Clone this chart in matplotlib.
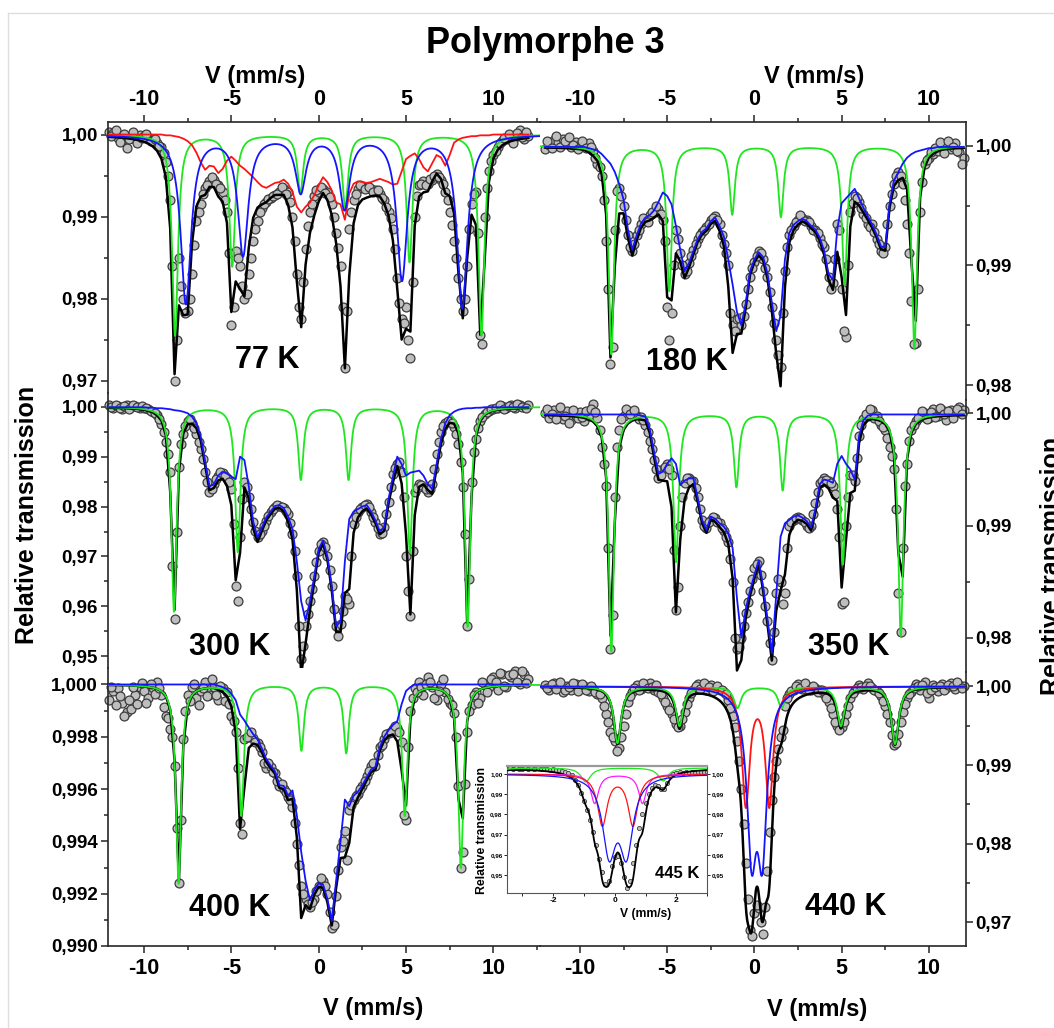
import numpy as np
import matplotlib.pyplot as plt
from matplotlib.ticker import MultipleLocator, FuncFormatter
from matplotlib.lines import Line2D

plt.rcParams['font.family'] = ['Liberation Sans', 'DejaVu Sans']
plt.rcParams['font.weight'] = 'bold'
plt.rcParams['axes.unicode_minus'] = False

W, H = 1054, 1028

# velocity channels (mm/s): even channels, odd (half-step) channels, inset channels
vel = np.arange(-12, 12.001, 0.25)
vel_mid = np.arange(-11.875, 11.876, 0.25)
vel_ins = np.arange(-3.4, 3.001, 0.1)

# ---------------- 77 K ----------------
t77 = [1.0003, 1.0002, 0.9996, 0.9993, 0.9983, 0.9997, 0.9995, 1.0000,
       0.9998, 0.9996, 0.9993, 0.9990, 0.9985, 0.9966, 0.9920, 0.9700,
       0.9850, 0.9800, 0.9785, 0.9830, 0.9895, 0.9915, 0.9935, 0.9943,
       0.9945, 0.9938, 0.9930, 0.9905, 0.9768, 0.9858, 0.9840, 0.9800,
       0.9830, 0.9870, 0.9895, 0.9910, 0.9918, 0.9923, 0.9926, 0.9930,
       0.9933, 0.9930, 0.9900, 0.9830, 0.9775, 0.9860, 0.9905, 0.9925,
       0.9930, 0.9934, 0.9930, 0.9915, 0.9880, 0.9840, 0.9715, 0.9885,
       0.9920, 0.9933, 0.9937, 0.9935, 0.9933, 0.9932, 0.9928, 0.9920,
       0.9905, 0.9885, 0.9825, 0.9775, 0.9790, 0.9728, 0.9900, 0.9938,
       0.9943, 0.9940, 0.9945, 0.9952, 0.9945, 0.9930, 0.9905, 0.9870,
       0.9825, 0.9785, 0.9840, 0.9915, 0.9930, 0.9755, 0.9900, 0.9955,
       0.9975, 0.9985, 0.9992, 0.9995, 0.9993, 0.9997, 1.0005, 0.9994,
       0.9998]
t77_mid = [0.9998, 1.0006, 0.9991, 1.0001, 0.9995, 1.0003, 0.9990, 0.9996,
           1.0001, 0.9992, 0.9995, 0.9986, 0.9978, 0.9950, 0.9840, 0.9750,
           0.9815, 0.9782, 0.9800, 0.9865, 0.9905, 0.9928, 0.9938, 0.9948,
           0.9940, 0.9935, 0.9920, 0.9855, 0.9790, 0.9850, 0.9815, 0.9805,
           0.9850, 0.9885, 0.9905, 0.9915, 0.9921, 0.9925, 0.9928, 0.9936,
           0.9928, 0.9918, 0.9870, 0.9790, 0.9820, 0.9888, 0.9915, 0.9932,
           0.9936, 0.9929, 0.9924, 0.9900, 0.9862, 0.9790, 0.9785, 0.9905,
           0.9928, 0.9938, 0.9934, 0.9936, 0.9930, 0.9932, 0.9923, 0.9912,
           0.9898, 0.9860, 0.9795, 0.9770, 0.9750, 0.9820, 0.9925, 0.9940,
           0.9938, 0.9946, 0.9950, 0.9948, 0.9940, 0.9920, 0.9890, 0.9850,
           0.9800, 0.9800, 0.9885, 0.9928, 0.9880, 0.9745, 0.9935, 0.9968,
           0.9980, 0.9990, 0.9996, 1.0001, 0.9990, 1.0002, 0.9997, 1.0003]
red77 = [1.0000, 1.0000, 1.0000, 1.0000, 1.0000, 1.0000, 1.0000, 1.0000,
         1.0000, 1.0000, 1.0000, 1.0000, 1.0000, 0.9999, 0.9999, 0.9998,
         0.9997, 0.9995, 0.9992, 0.9987, 0.9978, 0.9966, 0.9957, 0.9962,
         0.9961, 0.9953, 0.9958, 0.9968, 0.9973, 0.9968, 0.9962, 0.9958,
         0.9953, 0.9948, 0.9942, 0.9937, 0.9935, 0.9938, 0.9941, 0.9942,
         0.9945, 0.9940, 0.9930, 0.9912, 0.9905, 0.9912, 0.9917, 0.9926,
         0.9938, 0.9948, 0.9942, 0.9932, 0.9917, 0.9915, 0.9896, 0.9928,
         0.9940, 0.9943, 0.9942, 0.9941, 0.9942, 0.9944, 0.9946, 0.9944,
         0.9942, 0.9939, 0.9940, 0.9955, 0.9970, 0.9974, 0.9977, 0.9970,
         0.9960, 0.9955, 0.9965, 0.9975, 0.9972, 0.9962, 0.9975, 0.9990,
         0.9994, 0.9996, 0.9997, 0.9998, 0.9998, 0.9999, 0.9999, 0.9999,
         1.0000, 1.0000, 1.0000, 1.0000, 1.0000, 1.0000, 1.0000, 1.0000,
         1.0000]
green77_pos = [-8.22, -4.95, -1.05, 1.52, 5.20, 9.32]
green77_depth = [0.0245, 0.0160, 0.0070, 0.0088, 0.0155, 0.0245]
blue77_pos = [-7.60, -4.33, -1.03, 1.48, 4.77, 8.22]
blue77_depth = [0.0205, 0.0145, 0.0068, 0.0088, 0.0175, 0.0210]

# ---------------- 180 K ----------------
t180 = [0.9997, 1.0001, 1.0005, 1.0003, 1.0006, 1.0002, 0.9999, 1.0003,
        1.0001, 1.0000, 1.0002, 0.9996, 0.9985, 0.9975, 0.9920, 0.9818,
        0.9930, 0.9965, 0.9950, 0.9925, 0.9912, 0.9925, 0.9935, 0.9938,
        0.9942, 0.9945, 0.9947, 0.9938, 0.9865, 0.9860, 0.9930, 0.9910,
        0.9893, 0.9902, 0.9913, 0.9922, 0.9928, 0.9932, 0.9938, 0.9941,
        0.9935, 0.9918, 0.9900, 0.9850, 0.9855, 0.9850, 0.9868, 0.9890,
        0.9903, 0.9912, 0.9905, 0.9890, 0.9865, 0.9838, 0.9815, 0.9895,
        0.9925, 0.9933, 0.9938, 0.9940, 0.9938, 0.9933, 0.9930, 0.9923,
        0.9915, 0.9890, 0.9885, 0.9935, 0.9880, 0.9840, 0.9945, 0.9958,
        0.9953, 0.9943, 0.9935, 0.9935, 0.9922, 0.9912, 0.9915, 0.9950,
        0.9968, 0.9978, 0.9968, 0.9935, 0.9870, 0.9835, 0.9945, 0.9985,
        0.9990, 0.9993, 0.9996, 0.9998, 1.0000, 0.9997, 1.0002, 0.9995,
        0.9990]
t180_mid = [1.0004, 0.9998, 1.0008, 0.9999, 1.0004, 1.0007, 1.0001, 0.9997,
            1.0004, 0.9998, 0.9999, 0.9990, 0.9982, 0.9955, 0.9880, 0.9832,
            0.9962, 0.9958, 0.9938, 0.9915, 0.9918, 0.9930, 0.9940, 0.9936,
            0.9945, 0.9950, 0.9943, 0.9920, 0.9838, 0.9900, 0.9922, 0.9900,
            0.9895, 0.9908, 0.9918, 0.9925, 0.9930, 0.9935, 0.9940, 0.9938,
            0.9925, 0.9910, 0.9860, 0.9845, 0.9856, 0.9858, 0.9880, 0.9898,
            0.9908, 0.9910, 0.9898, 0.9878, 0.9852, 0.9825, 0.9860, 0.9915,
            0.9930, 0.9936, 0.9942, 0.9937, 0.9936, 0.9930, 0.9927, 0.9918,
            0.9905, 0.9880, 0.9905, 0.9930, 0.9845, 0.9900, 0.9952, 0.9956,
            0.9948, 0.9940, 0.9932, 0.9928, 0.9918, 0.9910, 0.9935, 0.9960,
            0.9975, 0.9975, 0.9955, 0.9910, 0.9834, 0.9880, 0.9970, 0.9988,
            0.9995, 0.9998, 1.0003, 0.9994, 1.0004, 0.9999, 0.9996, 0.9985]
blue180 = [0.9999, 0.9999, 0.9999, 0.9999, 0.9999, 0.9999, 0.9999, 0.9999,
           0.9999, 0.9999, 0.9998, 0.9997, 0.9996, 0.9993, 0.9989, 0.9985,
           0.9978, 0.9968, 0.9955, 0.9930, 0.9913, 0.9925, 0.9935, 0.9940,
           0.9942, 0.9946, 0.9953, 0.9961, 0.9958, 0.9951, 0.9933, 0.9913,
           0.9895, 0.9902, 0.9912, 0.9922, 0.9928, 0.9931, 0.9937, 0.9940,
           0.9933, 0.9924, 0.9905, 0.9884, 0.9861, 0.9850, 0.9868, 0.9895,
           0.9905, 0.9911, 0.9907, 0.9893, 0.9869, 0.9845, 0.9858, 0.9905,
           0.9927, 0.9934, 0.9937, 0.9939, 0.9937, 0.9933, 0.9930, 0.9923,
           0.9912, 0.9893, 0.9888, 0.9930, 0.9952, 0.9956, 0.9960, 0.9964,
           0.9956, 0.9948, 0.9941, 0.9934, 0.9926, 0.9916, 0.9915, 0.9952,
           0.9971, 0.9978, 0.9985, 0.9990, 0.9993, 0.9995, 0.9996, 0.9997,
           0.9998, 0.9998, 0.9999, 0.9999, 0.9999, 0.9999, 0.9999, 0.9999,
           0.9999]
green180_pos = [-8.20, -4.88, -1.27, 1.52, 5.17, 9.17]
green180_depth = [0.0174, 0.0121, 0.0057, 0.0059, 0.0116, 0.0169]

# ---------------- 300 K ----------------
t300 = [1.0003, 0.9997, 1.0002, 0.9995, 1.0003, 1.0000, 1.0001, 0.9998,
        0.9997, 0.9995, 0.9990, 0.9983, 0.9965, 0.9930, 0.9870, 0.9575,
        0.9880, 0.9945, 0.9972, 0.9968, 0.9945, 0.9915, 0.9870, 0.9830,
        0.9845, 0.9862, 0.9868, 0.9858, 0.9835, 0.9640, 0.9740, 0.9850,
        0.9820, 0.9770, 0.9740, 0.9752, 0.9772, 0.9790, 0.9800, 0.9802,
        0.9798, 0.9785, 0.9745, 0.9660, 0.9495, 0.9560, 0.9610, 0.9660,
        0.9710, 0.9730, 0.9700, 0.9640, 0.9560, 0.9565, 0.9620, 0.9605,
        0.9765, 0.9790, 0.9800, 0.9805, 0.9790, 0.9770, 0.9745, 0.9760,
        0.9810, 0.9865, 0.9885, 0.9870, 0.9700, 0.9580, 0.9830, 0.9845,
        0.9840, 0.9830, 0.9845, 0.9905, 0.9950, 0.9968, 0.9972, 0.9960,
        0.9925, 0.9840, 0.9560, 0.9850, 0.9935, 0.9972, 0.9985, 0.9992,
        0.9995, 0.9998, 1.0002, 0.9997, 1.0003, 0.9998, 1.0004, 0.9999,
        1.0004]
t300_mid = [1.0000, 1.0004, 0.9998, 1.0001, 0.9996, 1.0003, 0.9999, 1.0002,
            0.9998, 0.9992, 0.9987, 0.9975, 0.9950, 0.9905, 0.9680, 0.9750,
            0.9925, 0.9962, 0.9975, 0.9958, 0.9930, 0.9895, 0.9850, 0.9835,
            0.9855, 0.9870, 0.9862, 0.9850, 0.9765, 0.9610, 0.9815, 0.9840,
            0.9795, 0.9752, 0.9745, 0.9762, 0.9782, 0.9796, 0.9803, 0.9800,
            0.9792, 0.9768, 0.9710, 0.9560, 0.9520, 0.9585, 0.9635, 0.9688,
            0.9725, 0.9718, 0.9672, 0.9595, 0.9540, 0.9590, 0.9615, 0.9700,
            0.9780, 0.9795, 0.9803, 0.9800, 0.9780, 0.9757, 0.9748, 0.9785,
            0.9840, 0.9878, 0.9890, 0.9820, 0.9630, 0.9710, 0.9838, 0.9843,
            0.9835, 0.9835, 0.9875, 0.9930, 0.9962, 0.9972, 0.9968, 0.9945,
            0.9890, 0.9745, 0.9655, 0.9910, 0.9958, 0.9980, 0.9990, 0.9996,
            0.9998, 1.0003, 0.9996, 1.0002, 0.9999, 1.0005, 1.0000, 0.9997]
blue300 = [0.9999, 0.9999, 0.9999, 0.9999, 0.9999, 0.9999, 0.9999, 0.9999,
           0.9999, 0.9998, 0.9998, 0.9997, 0.9997, 0.9996, 0.9995, 0.9993,
           0.9992, 0.9990, 0.9987, 0.9980, 0.9967, 0.9940, 0.9890, 0.9840,
           0.9845, 0.9862, 0.9870, 0.9866, 0.9860, 0.9855, 0.9900, 0.9893,
           0.9840, 0.9770, 0.9738, 0.9758, 0.9778, 0.9790, 0.9801, 0.9803,
           0.9797, 0.9780, 0.9755, 0.9690, 0.9610, 0.9572, 0.9610, 0.9660,
           0.9715, 0.9732, 0.9700, 0.9640, 0.9560, 0.9570, 0.9690, 0.9775,
           0.9790, 0.9795, 0.9800, 0.9803, 0.9790, 0.9772, 0.9750, 0.9758,
           0.9815, 0.9860, 0.9900, 0.9885, 0.9862, 0.9868, 0.9870, 0.9872,
           0.9862, 0.9845, 0.9835, 0.9885, 0.9935, 0.9967, 0.9983, 0.9990,
           0.9994, 0.9996, 0.9997, 0.9997, 0.9998, 0.9998, 0.9999, 0.9999,
           0.9999, 0.9999, 0.9999, 0.9999, 0.9999, 0.9999, 0.9999, 0.9999,
           0.9999]
green300_pos = [-8.28, -4.63, -1.02, 1.71, 5.22, 8.53]
green300_depth = [0.0410, 0.0290, 0.0145, 0.0145, 0.0290, 0.0440]

# ---------------- 350 K ----------------
t350 = [1.0000, 0.9996, 1.0003, 0.9998, 0.9995, 1.0002, 0.9994, 0.9998,
        1.0001, 0.9993, 0.9998, 1.0008, 0.9996, 0.9970, 0.9935, 0.9790,
        0.9925, 0.9985, 0.9998, 1.0002, 1.0000, 0.9998, 0.9997, 0.9990,
        0.9975, 0.9958, 0.9942, 0.9950, 0.9955, 0.9945, 0.9825, 0.9900,
        0.9938, 0.9942, 0.9940, 0.9925, 0.9905, 0.9898, 0.9905, 0.9907,
        0.9902, 0.9895, 0.9885, 0.9850, 0.9790, 0.9800, 0.9822, 0.9842,
        0.9862, 0.9868, 0.9842, 0.9815, 0.9780, 0.9840, 0.9850, 0.9840,
        0.9900, 0.9905, 0.9908, 0.9905, 0.9900, 0.9900, 0.9920, 0.9938,
        0.9942, 0.9940, 0.9935, 0.9915, 0.9830, 0.9900, 0.9945, 0.9940,
        0.9980, 0.9995, 0.9998, 1.0003, 0.9998, 0.9990, 0.9985, 0.9970,
        0.9950, 0.9840, 0.9880, 0.9955, 0.9985, 0.9993, 0.9997, 1.0000,
        0.9996, 1.0004, 0.9998, 1.0003, 0.9994, 1.0003, 1.0000, 1.0006,
        1.0003]
t350_mid = [1.0004, 0.9999, 0.9995, 1.0006, 0.9998, 0.9991, 1.0003, 0.9996,
            0.9997, 1.0002, 1.0004, 1.0001, 0.9985, 0.9955, 0.9880, 0.9820,
            0.9970, 0.9995, 1.0004, 0.9999, 1.0003, 0.9995, 0.9994, 0.9983,
            0.9968, 0.9950, 0.9945, 0.9952, 0.9950, 0.9878, 0.9845, 0.9925,
            0.9942, 0.9940, 0.9933, 0.9915, 0.9900, 0.9903, 0.9908, 0.9903,
            0.9898, 0.9890, 0.9870, 0.9800, 0.9792, 0.9810, 0.9832, 0.9852,
            0.9866, 0.9856, 0.9828, 0.9795, 0.9805, 0.9852, 0.9830, 0.9880,
            0.9903, 0.9907, 0.9907, 0.9903, 0.9898, 0.9910, 0.9930, 0.9940,
            0.9941, 0.9938, 0.9928, 0.9890, 0.9832, 0.9925, 0.9945, 0.9960,
            0.9990, 0.9999, 1.0004, 0.9996, 0.9993, 0.9988, 0.9978, 0.9962,
            0.9915, 0.9805, 0.9935, 0.9975, 0.9990, 0.9996, 1.0002, 0.9995,
            1.0001, 0.9997, 1.0005, 0.9999, 1.0002, 0.9996, 1.0004, 0.9999]
blue350 = [0.9999, 0.9999, 0.9999, 0.9999, 0.9999, 0.9999, 0.9999, 0.9999,
           0.9999, 0.9999, 0.9999, 0.9999, 0.9999, 0.9999, 0.9999, 0.9999,
           0.9999, 0.9999, 0.9999, 0.9999, 0.9999, 0.9999, 0.9998, 0.9997,
           0.9986, 0.9965, 0.9946, 0.9948, 0.9955, 0.9960, 0.9955, 0.9936,
           0.9940, 0.9942, 0.9942, 0.9925, 0.9905, 0.9896, 0.9908, 0.9906,
           0.9902, 0.9899, 0.9893, 0.9880, 0.9835, 0.9800, 0.9825, 0.9842,
           0.9856, 0.9869, 0.9845, 0.9816, 0.9786, 0.9838, 0.9890, 0.9902,
           0.9905, 0.9908, 0.9909, 0.9907, 0.9904, 0.9898, 0.9915, 0.9937,
           0.9941, 0.9940, 0.9938, 0.9955, 0.9962, 0.9955, 0.9950, 0.9941,
           0.9980, 0.9994, 0.9998, 0.9999, 0.9999, 0.9999, 0.9999, 0.9999,
           0.9999, 0.9999, 0.9999, 0.9999, 0.9999, 0.9999, 0.9999, 0.9999,
           0.9999, 0.9999, 0.9999, 0.9999, 0.9999, 0.9999, 0.9999, 0.9999,
           0.9999]
green350_pos = [-8.20, -4.49, -1.03, 1.62, 5.07, 8.39]
green350_depth = [0.0212, 0.0132, 0.0065, 0.0068, 0.0134, 0.0198]

# ---------------- 400 K ----------------
t400 = [0.99940, 0.99975, 0.99985, 0.99930, 0.99895, 0.99905, 0.99960, 0.99990,
        0.99975, 0.99950, 0.99985, 1.00010, 0.99960, 0.99880, 0.99830, 0.99690,
        0.99240, 0.99790, 0.99960, 0.99990, 0.99950, 0.99975, 1.00010, 0.99960,
        0.99990, 0.99940, 0.99985, 0.99970, 0.99880, 0.99820, 0.99470, 0.99790,
        0.99800, 0.99795, 0.99775, 0.99740, 0.99680, 0.99685, 0.99660, 0.99610,
        0.99600, 0.99570, 0.99530, 0.99390, 0.99230, 0.99180, 0.99150, 0.99180,
        0.99230, 0.99250, 0.99200, 0.99070, 0.99190, 0.99380, 0.99440, 0.99520,
        0.99560, 0.99580, 0.99610, 0.99650, 0.99690, 0.99690, 0.99760, 0.99790,
        0.99815, 0.99830, 0.99835, 0.99780, 0.99480, 0.99900, 0.99985, 1.00010,
        0.99960, 1.00030, 0.99990, 0.99940, 1.00000, 0.99970, 0.99930, 0.99890,
        0.99610, 0.99360, 0.99820, 0.99920, 0.99970, 0.99950, 1.00000, 0.99990,
        1.00030, 0.99980, 1.00040, 0.99990, 1.00030, 1.00050, 1.00000, 1.00040,
        1.00020]
t400_mid = [0.99990, 0.99920, 0.99955, 0.99880, 0.99940, 0.99990, 0.99925, 1.00005,
            0.99930, 1.00000, 0.99965, 0.99985, 0.99915, 0.99870, 0.99800, 0.99450,
            0.99480, 0.99900, 0.99935, 1.00000, 0.99920, 0.99985, 0.99955, 1.00020,
            0.99960, 0.99995, 0.99935, 0.99925, 0.99860, 0.99680, 0.99430, 0.99800,
            0.99820, 0.99780, 0.99760, 0.99700, 0.99700, 0.99665, 0.99630, 0.99620,
            0.99590, 0.99560, 0.99470, 0.99310, 0.99200, 0.99160, 0.99170, 0.99210,
            0.99260, 0.99230, 0.99130, 0.99080, 0.99290, 0.99400, 0.99330, 0.99540,
            0.99575, 0.99600, 0.99630, 0.99670, 0.99700, 0.99730, 0.99770, 0.99810,
            0.99820, 0.99840, 0.99820, 0.99500, 0.99760, 0.99950, 0.99970, 0.99990,
            1.00000, 1.00010, 0.99950, 0.99975, 1.00020, 0.99945, 0.99920, 0.99800,
            0.99300, 0.99620, 0.99900, 0.99960, 0.99930, 1.00010, 0.99970, 1.00020,
            1.00010, 1.00045, 0.99995, 1.00035, 1.00040, 1.00010, 1.00050, 1.00005]
blue400 = [1.0, 1.0, 1.0, 1.0, 1.0, 1.0, 1.0, 1.0,
           1.0, 1.0, 1.0, 1.0, 1.0, 1.0, 1.0, 1.0,
           1.0, 1.0, 1.0, 1.0, 1.0, 1.0, 1.0, 1.0,
           1.00000, 0.99995, 0.99990, 0.99982, 0.99965, 0.99940, 0.99885, 0.99862,
           0.99835, 0.99810, 0.99790, 0.99755, 0.99715, 0.99690, 0.99668, 0.99615,
           0.99612, 0.99575, 0.99595, 0.99500, 0.99360, 0.99250, 0.99175, 0.99215,
           0.99240, 0.99235, 0.99180, 0.99095, 0.99250, 0.99400, 0.99560, 0.99535,
           0.99575, 0.99590, 0.99615, 0.99645, 0.99675, 0.99685, 0.99760, 0.99800,
           0.99825, 0.99845, 0.99860, 0.99925, 0.99975, 0.99990, 1.00000, 1.00000,
           1.0, 1.0, 1.0, 1.0, 1.0, 1.0, 1.0, 1.0,
           1.0, 1.0, 1.0, 1.0, 1.0, 1.0, 1.0, 1.0,
           1.0, 1.0, 1.0, 1.0, 1.0, 1.0, 1.0, 1.0,
           1.0]
green400_pos = [-8.02, -4.43, -0.99, 1.58, 4.93, 8.14]
green400_depth = [0.0076, 0.0050, 0.0025, 0.0026, 0.0050, 0.0070]

# ---------------- 440 K ----------------
t440 = [1.0002, 0.9995, 1.0004, 0.9998, 0.9993, 1.0001, 0.9996, 1.0003,
        0.9997, 1.0000, 0.9994, 0.9997, 0.9990, 0.9985, 0.9965, 0.9942,
        0.9930, 0.9922, 0.9950, 0.9980, 0.9993, 1.0002, 0.9997, 0.9999,
        1.0004, 0.9996, 0.9993, 0.9985, 0.9975, 0.9965, 0.9952, 0.9950,
        0.9968, 0.9985, 0.9996, 1.0003, 0.9998, 0.9995, 1.0002, 0.9997,
        0.9996, 0.9993, 0.9983, 0.9962, 0.9930, 0.9870, 0.9775, 0.9690,
        0.9712, 0.9718, 0.9685, 0.9765, 0.9855, 0.9905, 0.9935, 0.9975,
        0.9990, 0.9996, 1.0003, 0.9997, 1.0001, 0.9995, 0.9998, 0.9996,
        0.9990, 0.9980, 0.9965, 0.9950, 0.9948, 0.9965, 0.9985, 0.9995,
        1.0002, 0.9997, 1.0004, 0.9998, 0.9994, 0.9988, 0.9975, 0.9955,
        0.9925, 0.9940, 0.9968, 0.9985, 0.9993, 1.0003, 0.9996, 1.0005,
        0.9985, 1.0002, 0.9994, 1.0003, 0.9998, 1.0004, 0.9997, 1.0002,
        1.0000]
t440_mid = [0.9998, 1.0003, 0.9997, 1.0005, 0.9996, 0.9999, 1.0004, 0.9994,
            1.0003, 0.9996, 1.0001, 0.9993, 0.9990, 0.9975, 0.9955, 0.9935,
            0.9918, 0.9935, 0.9965, 0.9988, 0.9998, 0.9995, 1.0004, 0.9998,
            0.9999, 1.0002, 0.9990, 0.9980, 0.9970, 0.9958, 0.9948, 0.9958,
            0.9978, 0.9992, 1.0000, 0.9997, 1.0004, 0.9999, 0.9994, 1.0001,
            0.9995, 0.9990, 0.9973, 0.9948, 0.9905, 0.9825, 0.9730, 0.9682,
            0.9722, 0.9700, 0.9720, 0.9815, 0.9885, 0.9920, 0.9945, 0.9985,
            0.9994, 1.0001, 0.9998, 1.0004, 0.9996, 1.0000, 0.9993, 0.9995,
            0.9985, 0.9972, 0.9955, 0.9945, 0.9955, 0.9975, 0.9992, 0.9998,
            0.9999, 1.0001, 1.0000, 0.9996, 0.9992, 0.9982, 0.9965, 0.9938,
            0.9928, 0.9955, 0.9978, 0.9990, 0.9998, 1.0000, 1.0002, 0.9992,
            0.9996, 0.9999, 1.0001, 0.9996, 1.0002, 1.0000, 1.0005, 0.9998]
green440_pos = [-7.85, -4.29, -0.97, 1.56, 4.96, 8.06]
green440_depth = [0.0072, 0.0050, 0.0027, 0.0027, 0.0050, 0.0073]
blue440_pos = [-0.16, 0.45]
blue440_depth = [0.0195, 0.0195]
red440_pos = [-0.49, 0.85]
red440_depth = [0.0149, 0.0149]

# ---------------- inset 445 K ----------------
t445 = [1.0030, 1.0026, 1.0029, 1.0024, 1.0027, 1.0031, 1.0025, 1.0028, 1.0026, 1.0030,
        1.0024, 1.0027, 1.0025, 1.0022, 1.0024, 1.0020, 1.0018, 1.0015, 1.0010, 1.0004,
        0.9994, 0.9972, 0.9945, 0.9905, 0.9865, 0.9820, 0.9770, 0.9715, 0.9650, 0.9580,
        0.9515, 0.9455, 0.9470, 0.9545, 0.9590, 0.9595, 0.9560, 0.9490, 0.9435, 0.9470,
        0.9560, 0.9650, 0.9735, 0.9800, 0.9855, 0.9900, 0.9930, 0.9945, 0.9942, 0.9928,
        0.9925, 0.9955, 0.9990, 1.0002, 1.0006, 1.0008, 1.0005, 1.0009, 1.0006, 1.0010,
        1.0007, 1.0011, 1.0008, 1.0012, 1.0009]
green445_pos = [-7.85, -4.29, -0.94, 1.57, 4.96, 8.06]
green445_depth = [0.0185, 0.0125, 0.0070, 0.0065, 0.0125, 0.0185]
magenta445_pos = [-0.65, 0.90]
magenta445_depth = [0.0145, 0.0145]
red445_pos = [-0.40, 0.59]
red445_depth = [0.0251, 0.0251]
blue445_pos = [-0.18, 0.38]
blue445_depth = [0.0369, 0.0369]
base445 = 1.0032

GREEN = '#1fe61f'
BLUE = '#1414ff'
RED = '#ff1414'
MAGENTA = '#ff1aff'
DARK = '#262626'


def absorb(v, pos, depth, w):
    v = np.asarray(v, dtype=float)[:, None]
    return (np.array(depth) * w ** 2 / ((v - np.array(pos)) ** 2 + w ** 2)).sum(axis=1)


def add_ax(x0, y_top, x1, y_bot):
    return fig.add_axes([x0 / W, 1 - y_bot / H, (x1 - x0) / W, (y_bot - y_top) / H])


def comma_fmt(nd):
    return FuncFormatter(lambda x, p: f'{x:.{nd}f}'.replace('.', ','))


def style(ax, side, row, xlim, ylim, ymaj, nd):
    ax.set_xlim(*xlim)
    ax.set_ylim(*ylim)
    ax.patch.set_alpha(0)
    for s in ax.spines.values():
        s.set_visible(False)
        s.set_linewidth(1.2)
        s.set_color(DARK)
    ax.spines[side].set_visible(True)
    ax.xaxis.set_major_locator(MultipleLocator(5))
    ax.xaxis.set_minor_locator(MultipleLocator(2.5))
    ax.yaxis.set_major_locator(MultipleLocator(ymaj))
    ax.yaxis.set_minor_locator(MultipleLocator(ymaj / 2))
    ax.yaxis.set_major_formatter(comma_fmt(nd))
    ax.tick_params(which='both', direction='out', width=1.1, color=DARK)
    ax.tick_params(which='major', length=4.8)
    ax.tick_params(which='minor', length=2.8)
    ax.tick_params(axis='x', labelsize=15.5, pad=4)
    ax.tick_params(axis='y', labelsize=13.5, pad=2.5)
    if side == 'left':
        ax.tick_params(axis='y', which='both', left=True, right=False,
                       labelleft=True, labelright=False)
    else:
        ax.tick_params(axis='y', which='both', left=False, right=True,
                       labelleft=False, labelright=True)
    if row == 0:
        ax.spines['top'].set_visible(True)
        ax.tick_params(axis='x', which='both', top=True, bottom=False,
                       labeltop=True, labelbottom=False)
    elif row == 2:
        ax.spines['bottom'].set_visible(True)
        ax.tick_params(axis='x', which='both', top=False, bottom=True,
                       labeltop=False, labelbottom=True)
    else:
        ax.tick_params(axis='x', which='both', top=False, bottom=False,
                       labeltop=False, labelbottom=False)


def points(ax, v, t, ms=6.4):
    ax.plot(v, t, 'o', ms=ms, mfc='#bebebe', mec='#3c3c3c', mew=0.9, ls='none',
            zorder=2, clip_on=False)


fig = plt.figure(figsize=(W / 100, H / 100), dpi=100)

vf = np.linspace(-12.5, 12.8, 2531)
LX = (-12.06, 12.67)
RX = (-12.29, 12.10)
LC = (108, 540)
RC = (540, 965.5)
LW_K = 1.8

# 77 K
ax = add_ax(LC[0], 122.3, LC[1], 393)
style(ax, 'left', 0, LX, (0.96848, 1.00149), 0.01, 2)
points(ax, vel, t77)
points(ax, vel_mid, t77_mid)
w77g, w77b = 0.20, 0.36
black77 = np.array(red77) - absorb(vel, green77_pos, green77_depth, w77g) \
    - absorb(vel, blue77_pos, blue77_depth, w77b)
ax.plot(vel, black77, color='k', lw=LW_K, zorder=3)
ax.plot(vf, 1 - absorb(vf, green77_pos, green77_depth, w77g), color=GREEN, lw=1.3, zorder=4)
ax.plot(vel, red77, color=RED, lw=1.3, zorder=5)
ax.plot(vf, 1 - absorb(vf, blue77_pos, blue77_depth, w77b), color=BLUE, lw=1.3, zorder=6)
ax.text(-2.97, 0.97256, '77 K', ha='center', va='center', fontsize=22)

# 180 K
ax = add_ax(RC[0], 122.3, RC[1], 400)
style(ax, 'right', 0, RX, (0.97875, 1.00196), 0.01, 2)
points(ax, vel, t180)
points(ax, vel_mid, t180_mid)
ax.plot(vel, np.array(blue180) - absorb(vel, green180_pos, green180_depth, 0.18),
        color='k', lw=LW_K, zorder=3)
ax.plot(vf, 1 - absorb(vf, green180_pos, green180_depth, 0.18), color=GREEN, lw=1.3, zorder=4)
ax.plot(vel, blue180, color=BLUE, lw=1.3, zorder=6)
ax.text(-3.87, 0.98196, '180 K', ha='center', va='center', fontsize=22)

# 300 K
ax = add_ax(LC[0], 393, LC[1], 668)
style(ax, 'left', 1, LX, (0.94766, 1.00275), 0.01, 2)
points(ax, vel, t300)
points(ax, vel_mid, t300_mid)
ax.plot(vel, np.array(blue300) - absorb(vel, green300_pos, green300_depth, 0.18),
        color='k', lw=LW_K, zorder=3)
ax.plot(vf, 1 - absorb(vf, green300_pos, green300_depth, 0.18), color=GREEN, lw=1.3, zorder=4)
ax.plot(vel, blue300, color=BLUE, lw=1.3, zorder=6)
ax.text(-5.08, 0.9519, '300 K', ha='center', va='center', fontsize=22)

# 350 K
ax = add_ax(RC[0], 400, RC[1], 672)
style(ax, 'right', 1, RX, (0.97694, 1.00119), 0.01, 2)
points(ax, vel, t350)
points(ax, vel_mid, t350_mid)
ax.plot(vel, np.array(blue350) - absorb(vel, green350_pos, green350_depth, 0.18),
        color='k', lw=LW_K, zorder=3)
ax.plot(vf, 1 - absorb(vf, green350_pos, green350_depth, 0.18), color=GREEN, lw=1.3, zorder=4)
ax.plot(vel, blue350, color=BLUE, lw=1.3, zorder=6)
ax.text(5.40, 0.9792, '350 K', ha='center', va='center', fontsize=22)

# 400 K
ax = add_ax(LC[0], 668, LC[1], 946)
style(ax, 'left', 2, LX, (0.990, 1.00063), 0.002, 3)
points(ax, vel, t400)
points(ax, vel_mid, t400_mid)
ax.plot(vel, np.array(blue400) - absorb(vel, green400_pos, green400_depth, 0.18),
        color='k', lw=LW_K, zorder=3)
ax.plot(vf, 1 - absorb(vf, green400_pos, green400_depth, 0.18), color=GREEN, lw=1.3, zorder=4)
ax.plot(vel, blue400, color=BLUE, lw=1.3, zorder=6)
ax.text(-5.08, 0.99144, '400 K', ha='center', va='center', fontsize=22)

# 440 K
ax = add_ax(RC[0], 672, RC[1], 946)
style(ax, 'right', 2, RX, (0.96698, 1.00183), 0.01, 2)
points(ax, vel, t440)
points(ax, vel_mid, t440_mid)
g440 = absorb(vf, green440_pos, green440_depth, 0.25)
b440 = absorb(vf, blue440_pos, blue440_depth, 0.33)
r440 = absorb(vf, red440_pos, red440_depth, 0.27)
ax.plot(vf, 1 - g440 - b440 - r440, color='k', lw=LW_K, zorder=3)
ax.plot(vf, 1 - g440, color=GREEN, lw=1.3, zorder=4)
ax.plot(vf, 1 - r440, color=RED, lw=1.3, zorder=5)
ax.plot(vf, 1 - b440, color=BLUE, lw=1.3, zorder=6)
ax.text(5.23, 0.97197, '440 K', ha='center', va='center', fontsize=22)

# inset 445 K
axi = add_ax(506.7, 766, 707.3, 893.3)
axi.set_xlim(-3.5, 3.0)
axi.set_ylim(0.9409, 1.004)
axi.set_facecolor('white')
axi.set_zorder(10)
for s in axi.spines.values():
    s.set_linewidth(0.8)
    s.set_color('#555555')
axi.spines['top'].set_color('#9a9a9a')
axi.spines['top'].set_linewidth(1.6)
axi.xaxis.set_major_locator(MultipleLocator(2))
axi.xaxis.set_minor_locator(MultipleLocator(1))
axi.yaxis.set_major_locator(MultipleLocator(0.01))
axi.yaxis.set_major_formatter(comma_fmt(2))
axi.tick_params(which='both', direction='out', width=0.6, length=2, labelsize=4.5, pad=1,
                left=True, right=True, labelleft=True, labelright=True)
axi.tick_params(axis='x', labelsize=6, pad=1)
vfi = np.linspace(-3.6, 3.1, 671)
gi = absorb(vfi, green445_pos, green445_depth, 0.19)
mi = absorb(vfi, magenta445_pos, magenta445_depth, 0.15)
ri = absorb(vfi, red445_pos, red445_depth, 0.19)
bi = absorb(vfi, blue445_pos, blue445_depth, 0.26)
axi.plot(vel_ins, t445, 'o', ms=3.0, mfc='#bebebe', mec='#3c3c3c', mew=0.6, ls='none', zorder=2)
axi.plot(vfi, base445 - gi - mi - ri - bi, color='k', lw=1.3, zorder=3)
axi.plot(vfi, base445 - gi, color=GREEN, lw=0.9, zorder=4)
axi.plot(vfi, 1 - mi, color=MAGENTA, lw=0.9, zorder=5)
axi.plot(vfi, 1 - ri, color=RED, lw=0.9, zorder=6)
axi.plot(vfi, 1 - bi, color=BLUE, lw=0.9, zorder=7)
axi.text(2.01, 0.9505, '445 K', ha='center', va='center', fontsize=12)
fig.text(482 / W, 1 - 830 / H, 'Relative transmission', rotation=90, ha='center',
         va='center', fontsize=8.8)
fig.text(646 / W, 1 - 917 / H, 'V (mm/s)', ha='center', va='baseline', fontsize=8.7)

# figure texts
fig.text(545 / W, 1 - 53.3 / H, 'Polymorphe 3', ha='center', va='baseline', fontsize=26)
fig.text(255.5 / W, 1 - 82.5 / H, 'V (mm/s)', ha='center', va='baseline', fontsize=17)
fig.text(814 / W, 1 - 82.5 / H, 'V (mm/s)', ha='center', va='baseline', fontsize=17)
fig.text(373 / W, 1 - 1015 / H, 'V (mm/s)', ha='center', va='baseline', fontsize=17)
fig.text(817 / W, 1 - 1016 / H, 'V (mm/s)', ha='center', va='baseline', fontsize=17)
fig.text(27 / W, 1 - 515 / H, 'Relative transmission', rotation=90, ha='center',
         va='center', fontsize=18)
fig.text(1040 / W, 1 - 566 / H, 'Relative transmission', rotation=90, ha='left',
         va='center', fontsize=18)

# light frame of the slide
fig.add_artist(Line2D([7.5 / W, 7.5 / W], [0, 1 - 12.5 / H], color='#dedede', lw=1.0))
fig.add_artist(Line2D([7.5 / W, 1], [1 - 12.5 / H, 1 - 12.5 / H], color='#dedede', lw=1.0))

fig.savefig('out.png', dpi=100)
